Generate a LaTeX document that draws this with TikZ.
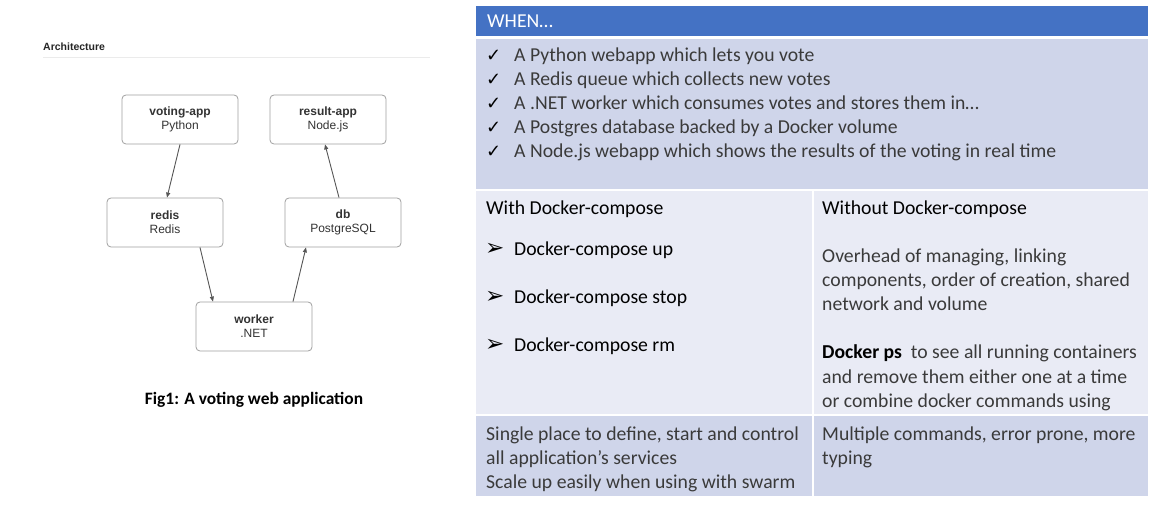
\documentclass[tikz,border=0pt]{standalone}
\usepackage{fontspec}
\setmainfont{Carlito}
\newfontfamily\helv{Liberation Sans}
\newfontfamily\djv{DejaVu Sans}
\usetikzlibrary{arrows.meta}
\definecolor{hdrblue}{HTML}{4472C4}
\definecolor{rowdark}{HTML}{CFD5EA}
\definecolor{rowlight}{HTML}{E9EBF5}
\definecolor{boxline}{HTML}{A0A0A0}
\definecolor{boxtext}{HTML}{333333}
\definecolor{arrowcol}{HTML}{555555}
\definecolor{bodytext}{HTML}{3A3A3A}
\begin{document}
\begin{tikzpicture}[x=1pt,y=-1pt,
  svc/.style={draw=boxline, rounded corners=4pt, minimum width=116pt, minimum height=49pt,
    align=center, font=\helv\fontsize{12}{14}\selectfont, text=boxtext, line width=0.8pt},
  flow/.style={draw=arrowcol, line width=0.9pt, -{Triangle[length=5pt,width=4pt]}},
  cell/.style={anchor=base west, font=\fontsize{19.7}{24}\selectfont, inner sep=0pt, text=bodytext},
  headcell/.style={cell, text=black},
  bulletmark/.style={anchor=base west, inner sep=0pt, font=\djv\fontsize{18}{20}\selectfont, text=black},
  arrowmark/.style={anchor=base west, inner sep=0pt, font=\djv\fontsize{23}{24}\selectfont, text=black},
]
\useasboundingbox[fill=white] (0,0) rectangle (1172,510);

% ---------- left: architecture ----------
\node[anchor=west, inner sep=0pt, font=\helv\bfseries\fontsize{10.5}{12}\selectfont, text=black!85] (arch) at (43,47) {Architecture};
\draw[black!8, line width=0.6pt] (43,57) -- (430,57);

\node[svc] (vote)   at (180,119.5) {\textbf{voting-app}\\Python};
\node[svc] (result) at (328,119.5) {\textbf{result-app}\\Node.js};
\node[svc] (redis)  at (165,222.5) {\textbf{redis}\\Redis};
\node[svc] (db)     at (343,222.5) {\textbf{db}\\PostgreSQL};
\node[svc] (worker) at (254,326.5) {\textbf{worker}\\.NET};

\draw[flow] (vote.south) -- ([xshift=2pt]redis.north);
\draw[flow] ([xshift=35pt]redis.south) -- ([xshift=-41pt]worker.north);
\draw[flow] ([xshift=39pt]worker.north) -- ([xshift=-37pt]db.south);
\draw[flow] ([xshift=-4pt]db.north) -- ([xshift=-3pt]result.south);

\node[font=\bfseries\fontsize{17.4}{20}\selectfont] (cap) at (254,400) {Fig1: A voting web application};

% ---------- right: table ----------
\fill[hdrblue] (476,6) rectangle (1148,36);
\fill[rowdark] (476,39) rectangle (1148,189);
\fill[rowlight] (476,191) rectangle (1148,414);
\fill[rowdark] (476,416) rectangle (1148,496);
\fill[white] (812,191) rectangle (814,496);

\node[cell, text=white] (when) at (487,28) {WHEN…};

\foreach \y/\t [count=\i] in {62/A Python webapp which lets you vote,
  86/A Redis queue which collects new votes,
  110/A .NET worker which consumes votes and stores them in…,
  134/A Postgres database backed by a Docker volume,
  158/A Node.js webapp which shows the results of the voting in real time}{
  \node[bulletmark] (chk\i) at (486,\y) {✓};
  \node[cell] (item\i) at (514,\y) {\t};
}

\node[headcell] (with) at (486,215) {With Docker-compose};
\foreach \y/\t [count=\i] in {256/up, 304/stop, 352/rm}{
  \node[arrowmark] (arr\i) at (485,\y) {➢};
  \node[headcell] (cmd\i) at (514,\y) {Docker-compose \t};
}

\node[headcell] (without) at (822,215) {Without Docker-compose};
\node[cell] (oh1) at (822,263) {Overhead of managing, linking};
\node[cell] (oh2) at (822,287) {components, order of creation, shared};
\node[cell] (oh3) at (822,311) {network and volume};
\node[cell] (ps1) at (822,359) {\textbf{\color{black}Docker ps}\ \ to see all running containers};
\node[cell] (ps2) at (822,383) {and remove them either one at a time};
\node[cell] (ps3) at (822,407) {or combine docker commands using};

\node[cell] (sp1) at (486,440) {Single place to define, start and control};
\node[cell] (sp2) at (486,464) {all application’s services};
\node[cell] (sp3) at (486,488) {Scale up easily when using with swarm};

\node[cell] (mc1) at (822,440) {Multiple commands, error prone, more};
\node[cell] (mc2) at (822,464) {typing};
\end{tikzpicture}
\end{document}
